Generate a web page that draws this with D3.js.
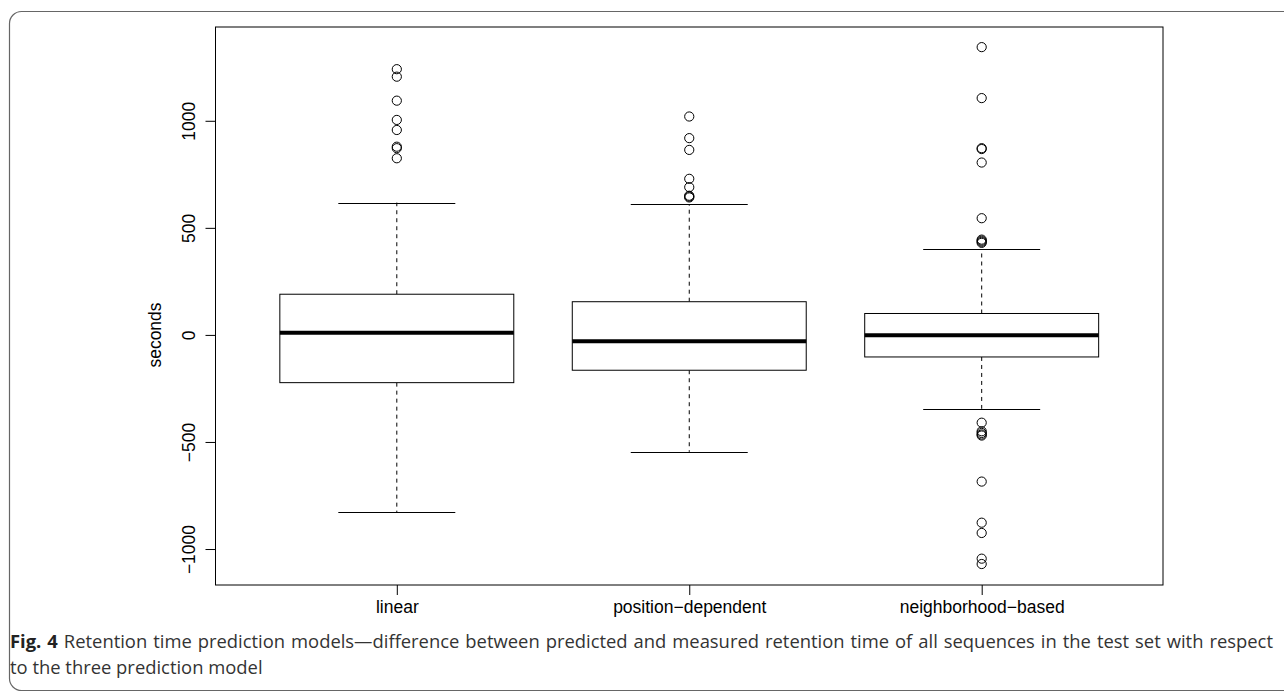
<!DOCTYPE html>
<html>
<head>
<meta charset="utf-8">
<script src="https://cdn.jsdelivr.net/npm/d3@7/dist/d3.min.js"></script>
<style>
body{margin:0;background:#fff;}
svg{display:block;}
</style>
</head>
<body>
<svg id="svg" width="1284" height="695"></svg>
<script>
var categories=["linear","position\u2212dependent","neighborhood\u2212based"];
var lowerWhisker=[-827,-546,-345];
var q1=[-223,-165,-103];
var medians=[10,-30,-2];
var q3=[190,155,100];
var upperWhisker=[618,610,400];
var outliersLinear=[1241,1206,1094,1004,957,879,872,825];
var outliersPosition=[1020,919,864,729,690,650,646,642];
var outliersNeighborhood=[1344,1106,872,868,805,545,445,440,435,430,-410,-450,-458,-465,-470,-685,-877,-925,-1045,-1070];
var yTicks=[-1000,-500,0,500,1000];
var yLabel="seconds";
var captionBold="Fig. 4";
var captionLine1="Retention time prediction models\u2014difference between predicted and measured retention time of all sequences in the test set with respect";
var captionLine2="to the three prediction model";

var plotLeft=215.5, plotRight=1163, plotTop=27, plotBottom=585;
var font="'Liberation Sans', Arial, sans-serif";

var svg=d3.select("#svg");

//figure frame, right side runs off the page
svg.append("rect")
        .attr("x",9.5).attr("y",11.5)
        .attr("width",1320).attr("height",679)
        .attr("rx",12)
        .attr("fill","none")
        .attr("stroke","#666")
        .attr("stroke-width",1.2)

var x=d3.scaleLinear().domain([0.38,3.62]).range([plotLeft,plotRight]);
var y=d3.scaleLinear().domain([-1168,1438]).range([plotBottom,plotTop]);

var stats=categories.map((c,i)=>({
    name:c, pos:i+1,
    lo:lowerWhisker[i], q1:q1[i], med:medians[i], q3:q3[i], hi:upperWhisker[i],
    out:[outliersLinear,outliersPosition,outliersNeighborhood][i]
}))

var boxes=svg.selectAll("g.box")
    .data(stats).enter().append("g")
        .attr("class","box")

//whiskers
boxes.append("line")
        .attr("x1",d=>x(d.pos)).attr("x2",d=>x(d.pos))
        .attr("y1",d=>y(d.q3)).attr("y2",d=>y(d.hi))
        .attr("stroke","#000").attr("stroke-dasharray","4,4")
boxes.append("line")
        .attr("x1",d=>x(d.pos)).attr("x2",d=>x(d.pos))
        .attr("y1",d=>y(d.q1)).attr("y2",d=>y(d.lo))
        .attr("stroke","#000").attr("stroke-dasharray","4,4")
//caps
boxes.selectAll("line.cap")
    .data(d=>[d.lo,d.hi].map(v=>({pos:d.pos,v:v}))).enter().append("line")
        .attr("class","cap")
        .attr("x1",d=>x(d.pos-0.2)).attr("x2",d=>x(d.pos+0.2))
        .attr("y1",d=>Math.round(y(d.v))+0.5).attr("y2",d=>Math.round(y(d.v))+0.5)
        .attr("stroke","#000")
//box
boxes.append("rect")
        .attr("x",d=>x(d.pos-0.4)).attr("width",d=>x(d.pos+0.4)-x(d.pos-0.4))
        .attr("y",d=>y(d.q3)).attr("height",d=>y(d.q1)-y(d.q3))
        .attr("fill","#fff").attr("stroke","#000")
//median
boxes.append("line")
        .attr("x1",d=>x(d.pos-0.4)).attr("x2",d=>x(d.pos+0.4))
        .attr("y1",d=>y(d.med)).attr("y2",d=>y(d.med))
        .attr("stroke","#000").attr("stroke-width",4)
//outliers
boxes.selectAll("circle")
    .data(d=>d.out.map(v=>({pos:d.pos,v:v}))).enter().append("circle")
        .attr("cx",d=>x(d.pos)).attr("cy",d=>y(d.v))
        .attr("r",4.6)
        .attr("fill","none").attr("stroke","#000")

//plot frame
svg.append("rect")
        .attr("x",plotLeft).attr("y",plotTop)
        .attr("width",plotRight-plotLeft).attr("height",plotBottom-plotTop)
        .attr("fill","none").attr("stroke","#000")

//axes
var yAxis=svg.append("g")
        .attr("transform","translate("+plotLeft+",0)")
    .call(d3.axisLeft(y).tickValues(yTicks).tickSize(10).tickFormat(d=>d<0?"\u2212"+Math.abs(d):d))
yAxis.select(".domain").remove()
yAxis.selectAll("line").attr("stroke","#000")
yAxis.selectAll("text")
        .attr("x",null).attr("dy",null)
        .attr("transform","translate(-21,0) rotate(-90)")
        .attr("text-anchor","middle")
        .attr("fill","#000")
        .style("font-family",font).style("font-size","17.5px")

var xAxis=svg.append("g")
        .attr("transform","translate(0,"+plotBottom+")")
    .call(d3.axisBottom(x).tickValues([1,2,3]).tickSize(10).tickFormat((d,i)=>categories[i]))
xAxis.select(".domain").remove()
xAxis.selectAll("line").attr("stroke","#000")
xAxis.selectAll("text")
        .attr("y",28).attr("dy",null)
        .attr("fill","#000")
        .style("font-family",font).style("font-size","17.5px")

svg.append("text")
        .attr("transform","translate(161,335) rotate(-90)")
        .attr("text-anchor","middle")
        .style("font-family",font).style("font-size","17.5px")
        .text(yLabel)

//caption, first line justified to the frame width
var capG=svg.append("g")
        .style("font-family","'Open Sans', 'Noto Sans', sans-serif")
        .style("font-size","18.4px")
        .attr("fill","#333")
var cap=capG.append("text")
        .attr("x",10).attr("y",648)
cap.append("tspan")
        .style("font-weight","bold").attr("fill","#222")
        .text(captionBold)
cap.append("tspan")
        .text(" "+captionLine1)
var natural=cap.node().getComputedTextLength();
var spaces=(captionBold+" "+captionLine1).split(" ").length-1;
cap.style("word-spacing",Math.max(0,(1273-10-natural)/spaces)+"px")
capG.append("text")
        .attr("x",10).attr("y",674)
        .text(captionLine2)
</script>
</body>
</html>
